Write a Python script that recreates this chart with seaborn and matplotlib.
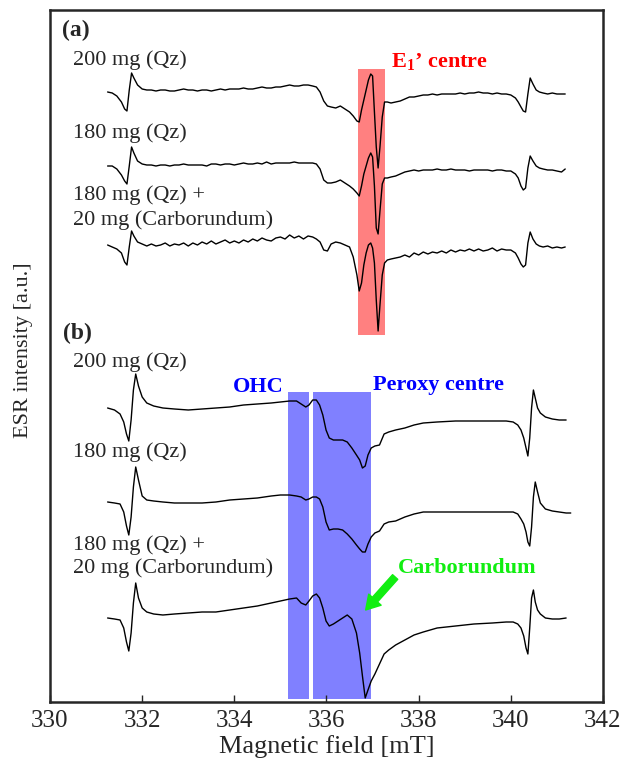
import numpy as np
import matplotlib
matplotlib.use('Agg')
import matplotlib.pyplot as plt
import seaborn as sns
from matplotlib.patches import Rectangle

sns.set_style('ticks')
plt.rcParams['font.family'] = ['Liberation Serif', 'DejaVu Serif']
plt.rcParams['mathtext.fontset'] = 'custom'
plt.rcParams['mathtext.rm'] = 'Liberation Serif'
plt.rcParams['mathtext.bf'] = 'Liberation Serif:bold'

# ---- panel (a): magnetic field grid [mT] and intensities [a.u.] ----
field_a = [
    331.25, 331.35, 331.45, 331.55, 331.62, 331.67, 331.72, 331.77, 331.82, 331.90, 332.00, 332.10,
    332.20, 332.30, 332.40, 332.50, 332.60, 332.70, 332.80, 332.90, 333.00, 333.10,
    333.20, 333.30, 333.40, 333.50, 333.60, 333.70, 333.80, 333.90, 334.00, 334.10,
    334.20, 334.30, 334.40, 334.50, 334.60, 334.70, 334.80, 334.90, 335.00, 335.10,
    335.20, 335.30, 335.40, 335.50, 335.60, 335.70,
    335.78, 335.86, 335.94, 336.02, 336.10, 336.20, 336.30, 336.40, 336.50,
    336.58, 336.66, 336.71, 336.76, 336.81, 336.86, 336.91, 336.96, 337.00, 337.04, 337.08, 337.12, 337.16, 337.21, 337.26, 337.32,
    337.40, 337.50, 337.60, 337.70, 337.80, 337.90, 338.00, 338.10, 338.20, 338.30,
    338.40, 338.50, 338.60, 338.70, 338.80, 338.90, 339.00, 339.10, 339.20, 339.30,
    339.40, 339.50, 339.60, 339.70, 339.80, 339.90, 340.00, 340.10,
    340.16, 340.22, 340.27, 340.32, 340.37, 340.42, 340.48, 340.55, 340.62, 340.70, 340.80, 340.90, 341.00, 341.10, 341.18,
]

a_200qz = [
    0, -1, -4, -10, -17, -19, 2, 19, 14, 7, 3, 2,
    2, 1, 2, 2, 1, 1, 2, 3, 2, 2,
    1, 2, 2, 1, 2, 3, 2, 3, 3, 3,
    4, 3, 3, 4, 5, 4, 4, 5, 5, 6,
    7, 6, 6, 7, 7, 6,
    5, 0, -9, -14, -15, -16, -14, -17, -20,
    -24, -29, -30, -18, -8, 2, 12, 18, 16, -20, -55, -76, -55, -25, -10, -10,
    -11, -10, -9, -7, -5, -5, -4, -3, -3, -2,
    -3, -2, -2, -2, -2, -1, -2, -1, -1, 0,
    -1, -1, -2, -1, -2, -2, -3, -6,
    -10, -15, -19, -20, -2, 14, 8, 2, 0, -1, -2, -1, -2, -2, -2,
]

a_180qz = [
    0, 0, -3, -9, -15, -18, 0, 19, 13, 5, 2, 1,
    1, 0, 1, 1, 0, 1, 1, 2, 1, 1,
    1, 1, 0, 2, 2, 1, 2, 2, 1, 2,
    3, 2, 2, 3, 2, 4, 2, 3, 3, 3,
    3, 4, 3, 3, 3, 3,
    2, -3, -14, -17, -17, -16, -14, -17, -20,
    -23, -27, -30, -20, -8, 0, 8, 13, 9, -20, -62, -68, -45, -18, -12, -12,
    -11, -10, -8, -6, -5, -4, -5, -4, -4, -4,
    -3, -4, -4, -3, -4, -4, -4, -5, -4, -4,
    -4, -4, -5, -4, -4, -5, -5, -8,
    -12, -20, -24, -22, -2, 10, 5, 0, -2, -3, -4, -4, -5, -6, -3,
]

a_180qz_sic = [
    0, -2, -4, -8, -17, -20, -2, 14, 9, 3, 1, -1,
    1, -1, 0, 2, -1, 1, 0, 2, -1, 2,
    0, 3, 1, 4, 1, 3, 5, 2, 4, 2,
    5, 3, 6, 4, 7, 5, 4, 7, 8, 6,
    10, 7, 9, 6, 9, 8,
    6, 3, -5, -6, 1, 3, 2, 0, -2,
    -12, -30, -46, -38, -20, -8, 0, 2, -3, -18, -55, -86, -60, -30, -18, -15,
    -14, -13, -12, -10, -12, -8, -10, -7, -9, -7,
    -8, -6, -8, -5, -7, -5, -6, -4, -6, -4,
    -6, -5, -3, -6, -4, -5, -5, -8,
    -13, -19, -22, -20, 2, 13, 6, 1, -1, -2, -1, -3, -2, -3, -2,
]

# ---- panel (b) ----
field_b = [
    331.25, 331.40, 331.52, 331.60, 331.66, 331.71, 331.76, 331.81, 331.86, 331.92,
    332.00, 332.10, 332.25, 332.45, 332.70, 333.00, 333.30, 333.60, 333.90, 334.20,
    334.50, 334.80, 335.00, 335.20, 335.35, 335.45, 335.55, 335.62, 335.70, 335.78,
    335.85, 335.92, 335.99, 336.06, 336.15, 336.25, 336.35, 336.45, 336.55, 336.65,
    336.72, 336.78, 336.84, 336.90, 336.97, 337.05, 337.15, 337.25, 337.35, 337.50,
    337.70, 337.90, 338.10, 338.40, 338.80, 339.20, 339.60, 339.90,
    340.05, 340.15, 340.22, 340.28, 340.33, 340.37, 340.41, 340.45, 340.49, 340.53, 340.58, 340.64, 340.75, 340.90, 341.05, 341.20, 341.30,
]

b_200qz = [
    0, -2, -6, -14, -26, -33, -12, 18, 34, 22,
    11, 5, 2, 0, -1, -2, -1, 0, 1, 3,
    4, 5, 6, 7, 7, 4, 1, 3, 8, 8,
    3, -7, -22, -30, -32, -32, -32, -34, -40, -47,
    -52, -60, -58, -47, -40, -38, -37, -26, -24, -22,
    -20, -17, -15, -14, -13, -13, -13, -13,
    -14, -17, -22, -30, -40, -48, -30, 0, 18, 10, 0, -5, -9, -11, -12, -12, np.nan,
]

b_180qz = [
    0, -1, -2, -10, -24, -33, -15, 15, 35, 22,
    6, 2, 1, 0, -1, -1, -1, 0, 2, 3,
    4, 6, 7, 7, 6, 5, 2, 3, 5, 5,
    3, -5, -20, -28, -27, -27, -28, -32, -37, -43,
    -47, -50, -50, -42, -35, -31, -29, -22, -20, -19,
    -15, -12, -10, -10, -10, -10, -10, -10,
    -10, -12, -17, -22, -30, -40, -44, -25, 5, 20, 10, -1, -7, -9, -10, -11, -11,
]

b_180qz_sic = [
    0, -1, -2, -10, -24, -33, -15, 15, 35, 20,
    10, 6, 4, 3, 4, 5, 6, 6, 8, 10,
    12, 15, 17, 19, 20, 15, 13, 17, 22, 24,
    20, 10, -3, -8, -6, -3, 0, 3, -1, -15,
    -35, -58, -80, -72, -63, -56, -46, -36, -32, -27,
    -22, -17, -14, -10, -8, -6, -5, -4,
    -4, -6, -10, -18, -30, -36, -10, 20, 28, 16, 8, 4, 0, -1, -1, 0, np.nan,
]

# vertical stacking offsets [a.u.]
offsets_a = [610, 536, 457]
offsets_b = [294, 200, 84]

sample_labels = ['200 mg (Qz)', '180 mg (Qz)', '180 mg (Qz) +', '20 mg (Carborundum)']

fig = plt.figure(figsize=(6.25, 7.63), dpi=100)
ax = fig.add_axes([50 / 625, 1 - 702 / 763, 553 / 625, 692 / 763])

# highlighted regions
ax.add_patch(Rectangle((336.69, 367), 0.58, 266, facecolor='#ff8080', edgecolor='none', zorder=0.5))
ax.add_patch(Rectangle((335.17, 2.7), 0.44, 307.6, facecolor='#8080ff', edgecolor='none', zorder=0.5))
ax.add_patch(Rectangle((335.70, 2.7), 1.26, 307.6, facecolor='#8080ff', edgecolor='none', zorder=0.5))

for spec, off in zip([a_200qz, a_180qz, a_180qz_sic], offsets_a):
    sns.lineplot(x=field_a, y=np.array(spec, dtype=float) + off, ax=ax, color='black',
                 linewidth=1.0, sort=False, estimator=None, zorder=2)
for spec, off in zip([b_200qz, b_180qz, b_180qz_sic], offsets_b):
    sns.lineplot(x=field_b, y=np.array(spec, dtype=float) + off, ax=ax, color='black',
                 linewidth=1.0, sort=False, estimator=None, zorder=2)

# panel labels and sample names
ax.text(330.26, 672, '(a)', fontsize=17, fontweight='bold', va='center')
ax.text(330.28, 369, '(b)', fontsize=17, fontweight='bold', va='center')
for ys in ([642, 569, 507, 482], [340, 250, 157, 134]):
    for y, lab in zip(ys, sample_labels):
        ax.text(330.50, y, lab, fontsize=16, va='center')

ax.text(337.40, 640, r'$\mathbf{E_1}$’ centre', color='#ff0000', fontsize=16,
        fontweight='bold', va='center')
ax.text(333.97, 315, 'OHC', color='#0000ff', fontsize=16, fontweight='bold', va='center')
ax.text(337.01, 317, 'Peroxy centre', color='#0000ff', fontsize=16, fontweight='bold', va='center')
ax.text(337.55, 134, 'Carborundum', color='#11ee11', fontsize=16, fontweight='bold', va='center')
ax.annotate('', xy=(336.85, 92), xytext=(337.49, 125),
            arrowprops=dict(facecolor='#11ee11', edgecolor='#11ee11', width=5,
                            headwidth=12, headlength=10, shrink=0))

ax.set_xlim(330, 342)
ax.set_ylim(0, 692)
ax.set_xticks(range(330, 343, 2))
ax.set_yticks([])
ax.tick_params(axis='x', direction='in', length=5, width=1, labelsize=18, pad=6)
for s in ax.spines.values():
    s.set_linewidth(1.8)
ax.set_xlabel('Magnetic field [mT]', fontsize=19, labelpad=2)
ax.set_ylabel('ESR intensity [a.u.]', fontsize=16)
ax.yaxis.set_label_coords(-0.031, 0.509)

fig.savefig('out.png', dpi=100)
